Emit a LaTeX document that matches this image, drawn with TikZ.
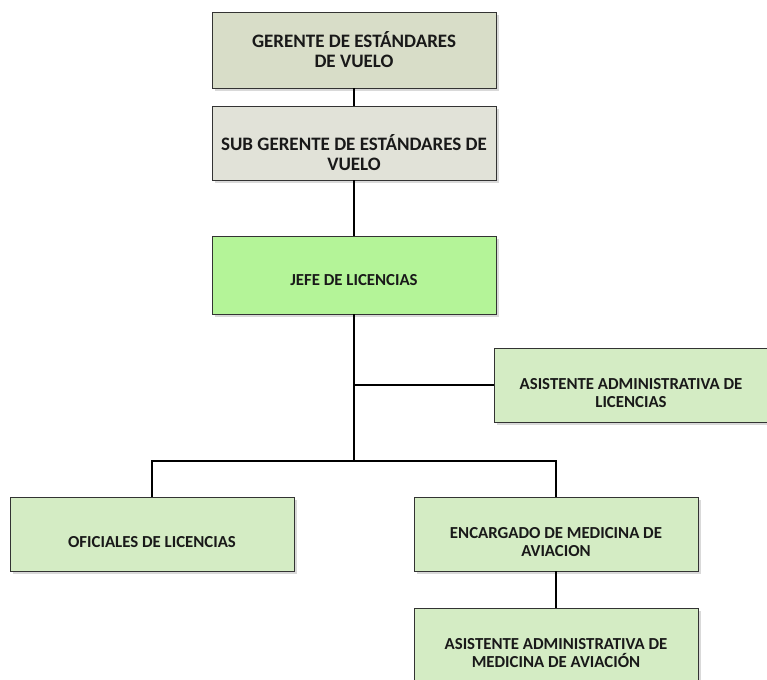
\documentclass[tikz,border=0pt]{standalone}
\usepackage{fontspec}
\setmainfont{Carlito}
\begin{document}
\begin{tikzpicture}[x=1pt,y=1pt,
  box/.style={draw=black!80, line width=0.9pt, inner sep=0pt, minimum width=284pt},
  lbl/.style={align=center, text=black!90},
  big/.style={font=\fontsize{19}{20}\selectfont\bfseries},
  small/.style={font=\fontsize{16.8}{18}\selectfont\bfseries},
  conn/.style={draw=black, line width=1.6pt}]
\useasboundingbox (0,0) rectangle (767,-679);
\clip (0,0) rectangle (767,-679);
\definecolor{cA}{RGB}{216,221,200}
\definecolor{cB}{RGB}{225,226,216}
\definecolor{cC}{RGB}{180,244,152}
\definecolor{cD}{RGB}{212,236,196}
% shadows
\foreach \cx/\cy/\h in {354/50/76, 354/143/74, 354/275/78, 636/385/74, 152/534/74, 556/534/74, 556/646/76}
  \fill[black!15] (\cx-142+3,-\cy+\h/2-3) rectangle (\cx+142+3,-\cy-\h/2-3);
% boxes
\node[box, fill=cA, minimum height=76pt] (b1) at (354,-50) {};
\node[box, fill=cB, minimum height=74pt] (b2) at (354,-143) {};
\node[box, fill=cC, minimum height=78pt] (b3) at (354,-275) {};
\node[box, fill=cD, minimum height=74pt] (b4) at (636,-385) {};
\node[box, fill=cD, minimum height=74pt] (b5) at (152,-534) {};
\node[box, fill=cD, minimum height=74pt] (b6) at (556,-534) {};
\node[box, fill=cD, minimum height=76pt] (b7) at (556,-646) {};
% texts
\node[lbl, big] (t1) at (354,-50) {GERENTE DE ESTÁNDARES\\DE VUELO};
\node[lbl, big] (t2) at (354,-153) {SUB GERENTE DE ESTÁNDARES DE\\VUELO};
\node[lbl, small] (t3) at (354,-280) {JEFE DE LICENCIAS};
\node[lbl, small] (t4) at (631,-393) {ASISTENTE ADMINISTRATIVA DE\\LICENCIAS};
\node[lbl, small] (t5) at (152,-542) {OFICIALES DE LICENCIAS};
\node[lbl, small] (t6) at (556,-542) {ENCARGADO DE MEDICINA DE\\AVIACION};
\node[lbl, small] (t7) at (556,-653) {ASISTENTE ADMINISTRATIVA DE\\MEDICINA DE AVIACIÓN};
% connectors
\coordinate (j1) at (354,-385);
\coordinate (j2) at (354,-461);
\draw[conn] (b1.south) -- (b2.north);
\draw[conn] (b2.south) -- (b3.north);
\draw[conn] (b3.south) -- (j2);
\draw[conn] (j1) -- (b4.west |- j1);
\draw[conn] (b5.north) |- (j2) -| (b6.north);
\draw[conn] (b6.south) -- (b7.north);
\end{tikzpicture}
\end{document}
